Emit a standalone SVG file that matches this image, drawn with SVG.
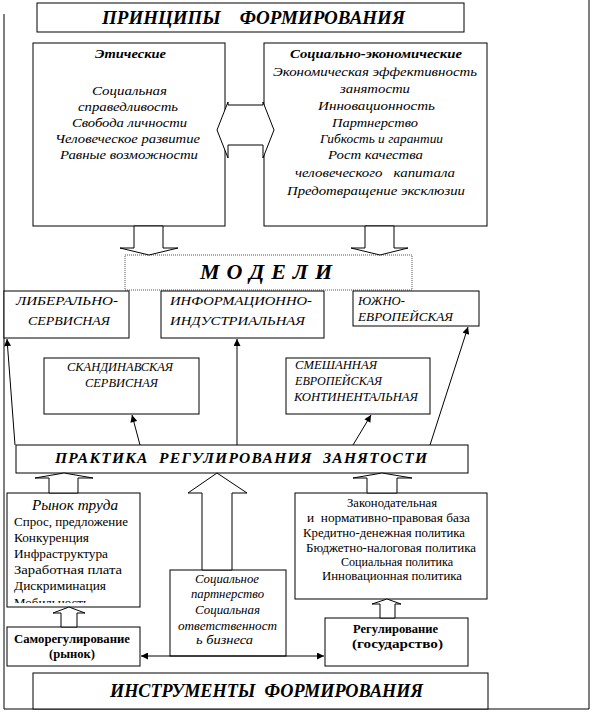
<svg xmlns="http://www.w3.org/2000/svg" width="593" height="713" viewBox="0 0 593 713" font-family="'Liberation Serif', 'Times New Roman', 'DejaVu Serif', serif">
<style>
text{font-family:"Liberation Serif","Times New Roman","DejaVu Serif",serif;fill:#000}
.box{fill:#fff;stroke:#000;stroke-width:1}
.blk{fill:#fff;stroke:#000;stroke-width:1}
.ln{fill:none;stroke:#000;stroke-width:1}
.it{font-style:italic;font-size:13.5px}
.bi{font-style:italic;font-weight:bold}
.rg{font-size:13px}
.lg{font-size:12.5px}
.bd{font-weight:bold;font-size:13px}
.up{font-style:italic;font-size:12.5px}
</style>
<defs>
<marker id="ah" viewBox="0 0 10 10" refX="10" refY="5" markerWidth="9" markerHeight="7" markerUnits="userSpaceOnUse" orient="auto-start-reverse">
<path d="M0,0 L10,5 L0,10 z" fill="#000"/>
</marker>
<clipPath id="mclip"><rect x="7" y="493" width="133" height="110"/></clipPath>
</defs>
<rect width="593" height="713" fill="#fff"/>
<g id="frame"><polyline class="ln" points="4,14 4,709 589,709 589,0"/></g>

<g id="principles">
<rect class="box" x="37" y="3" width="427" height="29"/>
<text class="bi" x="102" y="24" font-size="18" textLength="303" lengthAdjust="spacingAndGlyphs" xml:space="preserve">ПРИНЦИПЫ    ФОРМИРОВАНИЯ</text>
</g>

<g id="ethical">
<rect class="box" x="33" y="43" width="192" height="183"/>
<text class="bi" x="95" y="58" font-size="13.5" textLength="71" lengthAdjust="spacingAndGlyphs">Этические</text>
<text class="it" x="92" y="95" textLength="75" lengthAdjust="spacingAndGlyphs">Социальная</text>
<text class="it" x="78" y="111" textLength="100" lengthAdjust="spacingAndGlyphs">справедливость</text>
<text class="it" x="72" y="127" textLength="115" lengthAdjust="spacingAndGlyphs">Свобода личности</text>
<text class="it" x="55" y="143" textLength="145" lengthAdjust="spacingAndGlyphs">Человеческое развитие</text>
<text class="it" x="60" y="159" textLength="138" lengthAdjust="spacingAndGlyphs">Равные возможности</text>
</g>

<g id="socioeconomic">
<rect class="box" x="264" y="43" width="223" height="183"/>
<text class="bi" x="290" y="58" font-size="13.5" textLength="172" lengthAdjust="spacingAndGlyphs">Социально-экономические</text>
<text class="it" x="273" y="76" textLength="204" lengthAdjust="spacingAndGlyphs">Экономическая эффективность</text>
<text class="it" x="340" y="93" textLength="70" lengthAdjust="spacingAndGlyphs">занятости</text>
<text class="it" x="318" y="110" textLength="117" lengthAdjust="spacingAndGlyphs">Инновационность</text>
<text class="it" x="332" y="127" textLength="86" lengthAdjust="spacingAndGlyphs">Партнерство</text>
<text class="it" x="320" y="143" textLength="123" lengthAdjust="spacingAndGlyphs">Гибкость и гарантии</text>
<text class="it" x="328" y="159" textLength="95" lengthAdjust="spacingAndGlyphs">Рост качества</text>
<text class="it" x="295" y="177" textLength="160" lengthAdjust="spacingAndGlyphs" xml:space="preserve">человеческого   капитала</text>
<text class="it" x="287" y="195" textLength="178" lengthAdjust="spacingAndGlyphs">Предотвращение эксклюзии</text>
</g>

<g id="models">
<rect x="125" y="255" width="287" height="35" fill="#fff" stroke="#555" stroke-width="1" stroke-dasharray="1 1"/>
<text class="bi" x="200" y="279" font-size="22" textLength="132" lengthAdjust="spacing">М О Д Е Л И</text>
</g>

<g id="liberal">
<rect class="box" x="4" y="291" width="125" height="47"/>
<text class="up" x="16" y="305" textLength="102" lengthAdjust="spacingAndGlyphs">ЛИБЕРАЛЬНО-</text>
<text class="up" x="28" y="325" textLength="82" lengthAdjust="spacingAndGlyphs">СЕРВИСНАЯ</text>
</g>
<g id="infoind">
<rect class="box" x="161" y="291" width="163" height="47"/>
<text class="up" x="170" y="305" textLength="142" lengthAdjust="spacingAndGlyphs">ИНФОРМАЦИОННО-</text>
<text class="up" x="170" y="325" textLength="135" lengthAdjust="spacingAndGlyphs">ИНДУСТРИАЛЬНАЯ</text>
</g>
<g id="southeu">
<rect class="box" x="353" y="291" width="126" height="35"/>
<text class="up" x="358" y="305" font-size="11.5" textLength="47" lengthAdjust="spacingAndGlyphs">ЮЖНО-</text>
<text class="up" x="358" y="321" font-size="11.5" textLength="95" lengthAdjust="spacingAndGlyphs">ЕВРОПЕЙСКАЯ</text>
</g>
<g id="scandi">
<rect class="box" x="44" y="358" width="155" height="56"/>
<text class="up" x="67" y="371" textLength="106" lengthAdjust="spacingAndGlyphs">СКАНДИНАВСКАЯ</text>
<text class="up" x="85" y="387" textLength="73" lengthAdjust="spacingAndGlyphs">СЕРВИСНАЯ</text>
</g>
<g id="mixed">
<rect class="box" x="286" y="358" width="144" height="56"/>
<text class="up" x="295" y="369" textLength="82" lengthAdjust="spacingAndGlyphs">СМЕШАННАЯ</text>
<text class="up" x="295" y="385" textLength="87" lengthAdjust="spacingAndGlyphs">ЕВРОПЕЙСКАЯ</text>
<text class="up" x="294" y="401" textLength="124" lengthAdjust="spacingAndGlyphs">КОНТИНЕНТАЛЬНАЯ</text>
</g>

<g id="practice">
<rect class="box" x="16" y="445" width="452" height="28"/>
<text class="bi" x="55" y="463" font-size="15.5" textLength="372" lengthAdjust="spacing" xml:space="preserve">ПРАКТИКА  РЕГУЛИРОВАНИЯ  ЗАНЯТОСТИ</text>
</g>

<g id="market">
<rect class="box" x="7" y="493" width="133" height="114"/>
<text x="32" y="510" font-style="italic" font-size="15" textLength="86" lengthAdjust="spacingAndGlyphs">Рынок труда</text>
<text class="rg" x="14" y="526" textLength="114" lengthAdjust="spacingAndGlyphs">Спрос, предложение</text>
<text class="rg" x="14" y="542" textLength="75" lengthAdjust="spacingAndGlyphs">Конкуренция</text>
<text class="rg" x="14" y="558" textLength="94" lengthAdjust="spacingAndGlyphs">Инфраструктура</text>
<text class="rg" x="14" y="574" textLength="108" lengthAdjust="spacingAndGlyphs">Заработная плата</text>
<text class="rg" x="14" y="590" textLength="92" lengthAdjust="spacingAndGlyphs">Дискриминация</text>
<text class="rg" x="14" y="607" textLength="75" lengthAdjust="spacingAndGlyphs" clip-path="url(#mclip)">Мобильность</text>
</g>

<g id="legal">
<rect class="box" x="295" y="493" width="192" height="106"/>
<text class="lg" x="347" y="507" textLength="90" lengthAdjust="spacingAndGlyphs">Законодательная</text>
<text class="lg" x="307" y="522" textLength="163" lengthAdjust="spacingAndGlyphs" xml:space="preserve">и  нормативно-правовая база</text>
<text class="lg" x="303" y="537" textLength="162" lengthAdjust="spacingAndGlyphs">Кредитно-денежная политика</text>
<text class="lg" x="306" y="552" textLength="170" lengthAdjust="spacingAndGlyphs">Бюджетно-налоговая политика</text>
<text class="lg" x="341" y="566" textLength="112" lengthAdjust="spacingAndGlyphs">Социальная политика</text>
<text class="lg" x="322" y="580" textLength="140" lengthAdjust="spacingAndGlyphs">Инновационная политика</text>
</g>

<g id="social">
<rect class="box" x="170" y="570" width="116" height="86"/>
<text class="it" x="195" y="583" textLength="64" lengthAdjust="spacingAndGlyphs">Социальное</text>
<text class="it" x="191" y="598" textLength="73" lengthAdjust="spacingAndGlyphs">партнерство</text>
<text class="it" x="195" y="614" textLength="65" lengthAdjust="spacingAndGlyphs">Социальная</text>
<text class="it" x="178" y="630" textLength="99" lengthAdjust="spacingAndGlyphs">ответственност</text>
<text class="it" x="196" y="644" textLength="57" lengthAdjust="spacingAndGlyphs">ь бизнеса</text>
</g>

<g id="selfreg">
<rect class="box" x="7" y="627" width="133" height="39"/>
<text class="bd" x="14" y="643" textLength="116" lengthAdjust="spacingAndGlyphs">Саморегулирование</text>
<text class="bd" x="49" y="658" textLength="46" lengthAdjust="spacingAndGlyphs">(рынок)</text>
</g>
<g id="statereg">
<rect class="box" x="325" y="618" width="143" height="48"/>
<text class="bd" x="353" y="633" textLength="85" lengthAdjust="spacingAndGlyphs">Регулирование</text>
<text class="bd" x="352" y="648" textLength="91" lengthAdjust="spacingAndGlyphs">(государство)</text>
</g>

<g id="instruments">
<rect class="box" x="33" y="673" width="455" height="36"/>
<text class="bi" x="110" y="697" font-size="18" textLength="313" lengthAdjust="spacingAndGlyphs" xml:space="preserve">ИНСТРУМЕНТЫ  ФОРМИРОВАНИЯ</text>
</g>

<g id="connectors">
<polygon class="blk" points="217,130 228,102 228,105 263,105 263,102 274,130 263,158 263,145 228,145 228,158"/>
<polygon class="blk" points="134,226 134,248 120,248 149,255 178,248 163,248 163,226"/>
<polygon class="blk" points="365,226 365,248 351,248 380,255 408,248 394,248 394,226"/>
<polygon class="blk" points="217,473 247,493 232,493 232,570 202,570 202,493 188,493"/>
<polygon class="blk" points="64,473 93,478 78,478 78,493 49,493 49,478 35,478"/>
<polygon class="blk" points="382,473 412,478 397,478 397,493 367,493 367,478 353,478"/>
<polygon class="blk" points="69,607 85,613 77,613 77,627 61,627 61,613 53,613"/>
<polygon class="blk" points="387,599 401,604 395,604 395,618 380,618 380,604 372,604"/>
<line class="ln" x1="15" y1="445" x2="7" y2="339" marker-end="url(#ah)"/>
<line class="ln" x1="237" y1="445" x2="237" y2="339" marker-end="url(#ah)"/>
<line class="ln" x1="140" y1="445" x2="132" y2="415" marker-end="url(#ah)"/>
<line class="ln" x1="353" y1="445" x2="371" y2="415" marker-end="url(#ah)"/>
<line class="ln" x1="430" y1="445" x2="468" y2="327" marker-end="url(#ah)"/>
<line class="ln" x1="141" y1="656" x2="324" y2="656" marker-start="url(#ah)" marker-end="url(#ah)"/>
</g>
</svg>
